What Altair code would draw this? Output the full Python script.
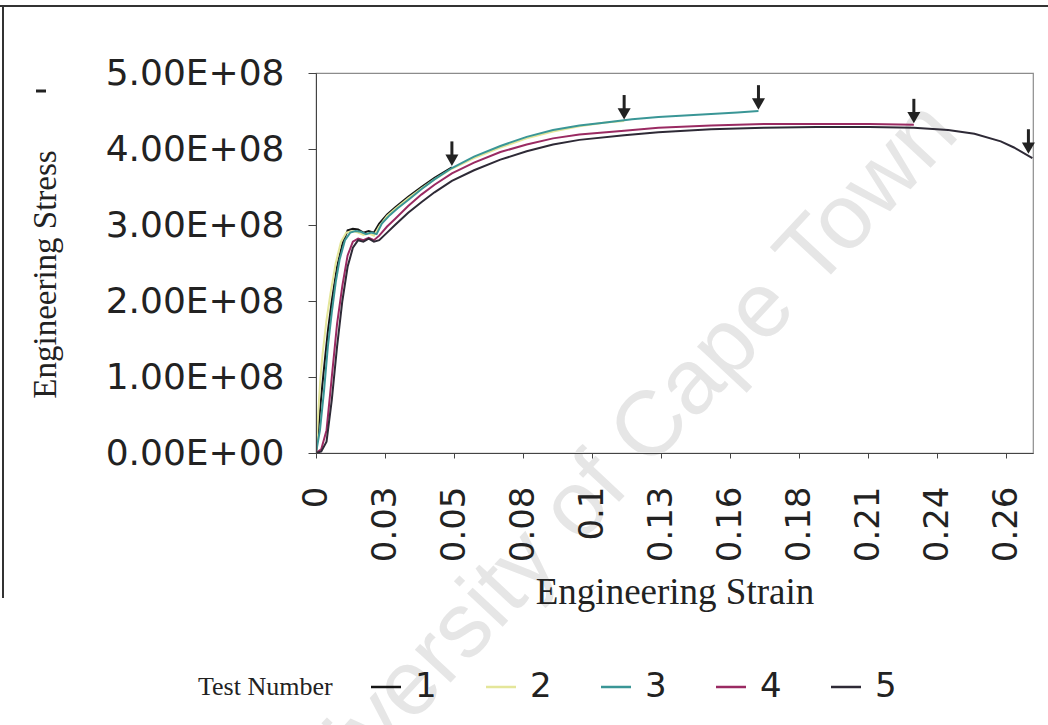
import altair as alt
import pandas as pd

# ---------------- data (stress in units of 1e8 Pa) ----------------
t1_strain = [0, 0.001, 0.002, 0.003, 0.0045, 0.006, 0.008, 0.010, 0.012, 0.014, 0.016, 0.018,
             0.020, 0.022, 0.024, 0.027, 0.030, 0.035, 0.040, 0.045, 0.0516]
t1_stress = [0, 0.35, 0.75, 1.1, 1.6, 2.0, 2.45, 2.75, 2.93, 2.95, 2.94, 2.9,
             2.92, 2.9, 3.02, 3.14, 3.23, 3.37, 3.5, 3.62, 3.76]

t2_strain = [0, 0.0008, 0.0016, 0.0025, 0.004, 0.0055, 0.0075, 0.0095, 0.0115, 0.014, 0.016, 0.018,
             0.020, 0.022, 0.024, 0.027, 0.030, 0.035, 0.040, 0.045, 0.0516, 0.060, 0.070, 0.080,
             0.090, 0.100, 0.110, 0.117]
t2_stress = [0, 0.5, 0.95, 1.3, 1.75, 2.1, 2.5, 2.78, 2.9, 2.92, 2.9, 2.87,
             2.89, 2.86, 2.98, 3.12, 3.21, 3.35, 3.48, 3.6, 3.74, 3.88, 4.02, 4.14,
             4.23, 4.3, 4.35, 4.37]

t3_strain = [0, 0.0015, 0.003, 0.0045, 0.006, 0.0075, 0.009, 0.011, 0.013, 0.015, 0.017, 0.019,
             0.021, 0.023, 0.025, 0.028, 0.031, 0.035, 0.040, 0.045, 0.0516, 0.060, 0.070, 0.080,
             0.090, 0.100, 0.110, 0.120, 0.130, 0.140, 0.150, 0.160, 0.168]
t3_stress = [0, 0.3, 0.8, 1.4, 1.85, 2.25, 2.55, 2.8, 2.9, 2.92, 2.91, 2.88,
             2.9, 2.88, 3.02, 3.13, 3.22, 3.33, 3.47, 3.6, 3.75, 3.9, 4.04, 4.16,
             4.25, 4.31, 4.35, 4.39, 4.42, 4.44, 4.46, 4.48, 4.5]

t4_strain = [0, 0.002, 0.004, 0.006, 0.008, 0.010, 0.012, 0.014, 0.016, 0.018, 0.020, 0.022,
             0.024, 0.027, 0.030, 0.035, 0.040, 0.045, 0.0516, 0.060, 0.070, 0.080, 0.090,
             0.100, 0.117, 0.130, 0.150, 0.170, 0.190, 0.210, 0.227]
t4_stress = [0, 0.05, 0.3, 1.0, 1.7, 2.2, 2.6, 2.78, 2.82, 2.8, 2.83, 2.8,
             2.86, 2.98, 3.08, 3.25, 3.4, 3.53, 3.68, 3.82, 3.96, 4.06, 4.14,
             4.19, 4.24, 4.28, 4.31, 4.33, 4.33, 4.33, 4.32]

t5_strain = [0, 0.002, 0.004, 0.006, 0.008, 0.010, 0.012, 0.014, 0.016, 0.018, 0.020, 0.022,
             0.024, 0.027, 0.030, 0.035, 0.040, 0.045, 0.0516, 0.060, 0.070, 0.080, 0.090,
             0.100, 0.117, 0.130, 0.150, 0.170, 0.190, 0.210, 0.227, 0.240, 0.250, 0.260,
             0.265, 0.272]
t5_stress = [0, 0.02, 0.15, 0.7, 1.4, 2.0, 2.45, 2.7, 2.8, 2.78, 2.82, 2.78,
             2.8, 2.9, 3.0, 3.16, 3.3, 3.43, 3.58, 3.72, 3.86, 3.97, 4.06,
             4.12, 4.18, 4.22, 4.26, 4.28, 4.29, 4.29, 4.28, 4.25, 4.2, 4.1,
             4.02, 3.88]

tests = ["1", "2", "3", "4", "5"]
colors = ["#151515", "#e4e69a", "#3a9696", "#9a2a62", "#2e2a36"]

arrow_strain = [0.0516, 0.117, 0.168, 0.227, 0.2705]
arrow_stress = [3.76, 4.37, 4.5, 4.32, 3.92]

x_tick_values = [0, 0.0262, 0.0524, 0.0786, 0.1048, 0.131, 0.1572, 0.1834, 0.2096, 0.2358, 0.262]
x_labels = ["0", "0.03", "0.05", "0.08", "0.1", "0.13", "0.16", "0.18", "0.21", "0.24", "0.26"]
y_tick_values = [0, 1, 2, 3, 4, 5]
y_labels = ["0.00E+00", "1.00E+08", "2.00E+08", "3.00E+08", "4.00E+08", "5.00E+08"]

watermark_text = "University of Cape Town"

# ---------------- tables ----------------
rows = []
for name, xs, ys in zip(tests, [t1_strain, t2_strain, t3_strain, t4_strain, t5_strain],
                        [t1_stress, t2_stress, t3_stress, t4_stress, t5_stress]):
    for i, (a, b) in enumerate(zip(xs, ys)):
        rows.append({"Test": name, "strain": a, "stress": b, "i": i})
df = pd.DataFrame(rows)
arrows = pd.DataFrame({"strain": arrow_strain, "stress": arrow_stress})

x_expr = "[" + ",".join("'%s'" % s for s in x_labels) + "][round(datum.value / 0.0262)]"
y_expr = "[" + ",".join("'%s'" % s for s in y_labels) + "][round(datum.value)]"

xscale = alt.Scale(domain=[0, 0.27224], nice=False, zero=False)
yscale = alt.Scale(domain=[0, 5], nice=False)

x_enc = alt.X("strain:Q", scale=xscale, axis=alt.Axis(
    values=x_tick_values, labelExpr=x_expr, title="Engineering Strain",
    labelAngle=270, labelAlign="right", labelBaseline="middle",
    labelFont="DejaVu Sans", labelFontSize=34, labelColor="#222", labelLimit=400,
    labelPadding=28, tickSize=5, tickColor="#444", domainColor="#444",
    grid=False, labelOverlap=False, labelFlush=False, zindex=1,
    titleFont="Liberation Serif", titleFontSize=37, titleFontWeight="normal",
    titleColor="#222", titleY=139, titleBaseline="middle"))
y_enc = alt.Y("stress:Q", scale=yscale, axis=alt.Axis(
    values=y_tick_values, labelExpr=y_expr, title="Engineering Stress",
    labelFont="DejaVu Sans", labelFontSize=36, labelColor="#222", labelLimit=400,
    labelPadding=24, tickSize=8, tickColor="#444", domainColor="#444",
    grid=False, zindex=1, titleFont="Liberation Serif", titleFontSize=33,
    titleFontWeight="normal", titleColor="#222", titleX=-271, titleY=201,
    titleAngle=270, titleAlign="center", titleBaseline="middle"))

watermark = alt.Chart(pd.DataFrame({"t": [watermark_text]})).mark_text(
    angle=313, fontSize=92, font="Liberation Sans", color="#e6e6e6"
).encode(x=alt.value(287), y=alt.value(405), text="t:N")

frame_top = alt.Chart(pd.DataFrame({"a": [0]})).mark_rule(color="#333", strokeWidth=2).encode(
    x=alt.value(-316), x2=alt.value(732), y=alt.value(-67))
frame_left = alt.Chart(pd.DataFrame({"a": [0]})).mark_rule(color="#333", strokeWidth=2).encode(
    x=alt.value(-313), y=alt.value(-67), y2=alt.value(525))
dash = alt.Chart(pd.DataFrame({"a": [0]})).mark_rule(color="#222", strokeWidth=3).encode(
    x=alt.value(-280), x2=alt.value(-270), y=alt.value(18))

lines = alt.Chart(df).mark_line(strokeWidth=2, clip=True).encode(
    x=x_enc, y=y_enc, order="i:Q",
    color=alt.Color("Test:N", scale=alt.Scale(domain=tests, range=colors), legend=alt.Legend(
        orient="none", legendX=-118, legendY=597, direction="horizontal",
        title="Test Number", titleOrient="left", titleFont="Liberation Serif",
        titleFontSize=26, titleFontWeight="normal", titleColor="#222",
        titlePadding=36, titleBaseline="middle", titleAnchor="middle",
        labelFont="DejaVu Sans", labelFontSize=34, labelColor="#222",
        symbolType="stroke", symbolSize=900, symbolStrokeWidth=2.5,
        labelOffset=12, columnPadding=44)))

stems = alt.Chart(arrows).transform_calculate(
    lo="datum.stress + 0.12", hi="datum.stress + 0.34").mark_rule(
    color="#222", strokeWidth=3).encode(
    x=alt.X("strain:Q", scale=xscale), y=alt.Y("lo:Q", scale=yscale), y2="hi:Q")
heads = alt.Chart(arrows).mark_point(shape="triangle-down", filled=True, size=170,
                                      color="#222", opacity=1, yOffset=-7).encode(
    x=alt.X("strain:Q", scale=xscale), y=alt.Y("stress:Q", scale=yscale))

chart = alt.layer(watermark, frame_top, frame_left, dash, lines, stems, heads).properties(
    width=717, height=380,
    padding={"left": 316, "top": 73, "right": 15, "bottom": 272},
    autosize=alt.AutoSizeParams(type="none"),
    background="white",
).configure_view(stroke="#8c8c8c", strokeWidth=1.2)

chart.save("out.html", embed_options={"renderer": "svg", "actions": False})
